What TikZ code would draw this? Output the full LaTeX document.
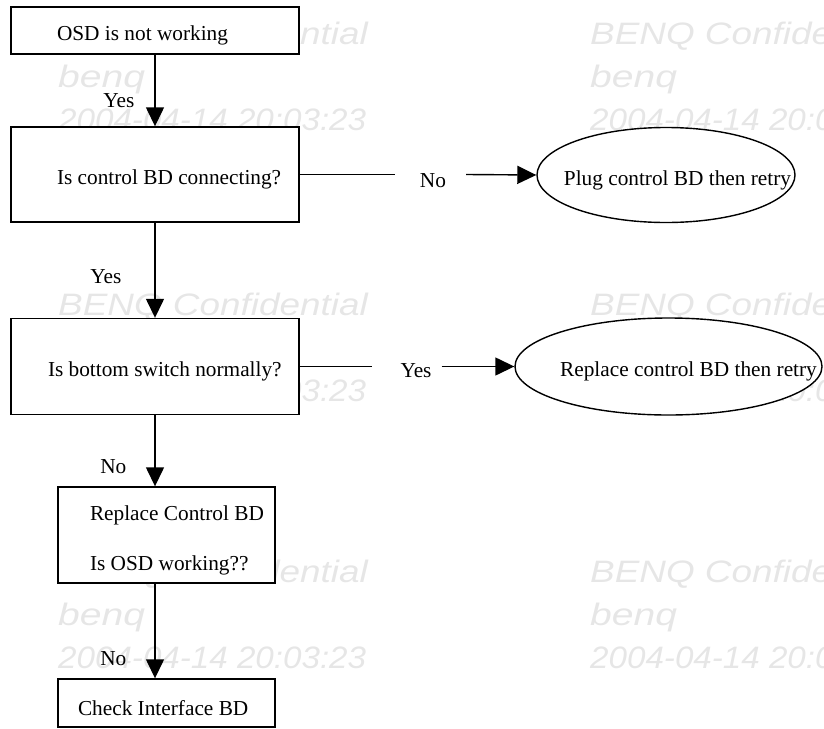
\documentclass[tikz,border=0pt]{standalone}
\usepackage{fontspec}
\setmainfont{Liberation Serif}
\setsansfont{Liberation Sans}
\usetikzlibrary{calc,positioning,arrows.meta,shapes.geometric}
\definecolor{color_wmark}{HTML}{e6e6e6}

\tikzset{
	stepbox/.style={draw, line width=1.4pt, fill=white, inner xsep=0pt, inner ysep=0pt, align=flush left,
		execute at begin node={\rule{0pt}{25pt}}},
	endshape/.style={draw, ellipse, line width=1.4pt, fill=white, inner sep=0pt,
		execute at begin node={\rule{0pt}{25pt}}},
	flow/.style={line width=1.4pt, -{Triangle[length=19pt, width=18pt]}},
	plain/.style={line width=1.4pt},
	lbl/.style={inner sep=0pt},
	wmark/.style={color_wmark, font=\sffamily\itshape\fontsize{31}{31}\selectfont, anchor=west, inner sep=0pt}
}

\begin{document}
\begin{tikzpicture}[x=1pt,y=-1pt,font=\fontsize{21.3}{25}\selectfont]
	\useasboundingbox (0, 0) rectangle (824, 728);
	% Watermarks
	\foreach \wx in {58, 590} {
		\foreach \wy in {36, 307, 574} {
			\node[wmark] at (\wx, \wy) {\scalebox{1.19}[1]{BENQ Confidential}};
			\node[wmark] at (\wx, \wy+43) {\scalebox{1.26}[1]{benq}};
			\node[wmark] at (\wx, \wy+84) {\scalebox{1.07}[1]{2004-04-14 20:03:23}};
		}
	}

	% Boxes
	\node[stepbox, text width=288pt, minimum height=47pt] (start) at (155, 30.5)
		{\hspace*{46pt}OSD is not working};
	\node[stepbox, text width=288pt, minimum height=95pt] (qcon) at (155, 174.5)
		{\hspace*{46pt}Is control BD connecting?};
	\node[stepbox, text width=288pt, minimum height=96pt] (qsw) at (155, 366.5)
		{\hspace*{37pt}Is bottom switch normally?};
	\node[stepbox, text width=217pt, minimum height=96pt] (repbd) at (166.5, 535)
		{\hspace*{32pt}Replace Control BD\\[25pt]\hspace*{32pt}Is OSD working??};
	\node[stepbox, text width=217pt, minimum height=48pt] (chkif) at (166.5, 703)
		{\hspace*{20pt}Check Interface BD};

	% Ends
	\node[endshape, minimum width=258pt, minimum height=95pt] (plug) at (666, 175)
		{\makebox[0pt]{\hspace*{23pt}Plug control BD then retry}};
	\node[endshape, minimum width=307pt, minimum height=97pt] (repl) at (668.5, 366.5)
		{\makebox[0pt]{\hspace*{40pt}Replace control BD then retry}};

	% Side labels
	\node[lbl] (lno) at (433, 181) {No};
	\node[lbl] (lyes) at (416, 371) {Yes};

	% Main flow
	\draw[flow] (start) -- node[lbl, pos=0.64, left=20pt] {Yes} (qcon);
	\draw[flow] (qcon) -- node[lbl, pos=0.57, left=33pt] {Yes} (qsw);
	\draw[flow] (qsw.south) -- node[lbl, pos=0.72, left=28pt] {No} (qsw.south |- repbd.north);
	\draw[flow] (qsw.south |- repbd.south) -- node[lbl, pos=0.79, left=28pt] {No} (qsw.south |- chkif.north);

	% Branches
	\draw[plain] (qcon.east) -- ([xshift=-25pt]lno.west |- qcon.east);
	\draw[flow] ([xshift=20pt]lno.east |- qcon.east) -- (plug.west);
	\draw[plain] (qsw.east) -- ([xshift=-28pt]lyes.west |- qsw.east);
	\draw[flow] ([xshift=10pt]lyes.east |- qsw.east) -- (repl.west);
\end{tikzpicture}
\end{document}
